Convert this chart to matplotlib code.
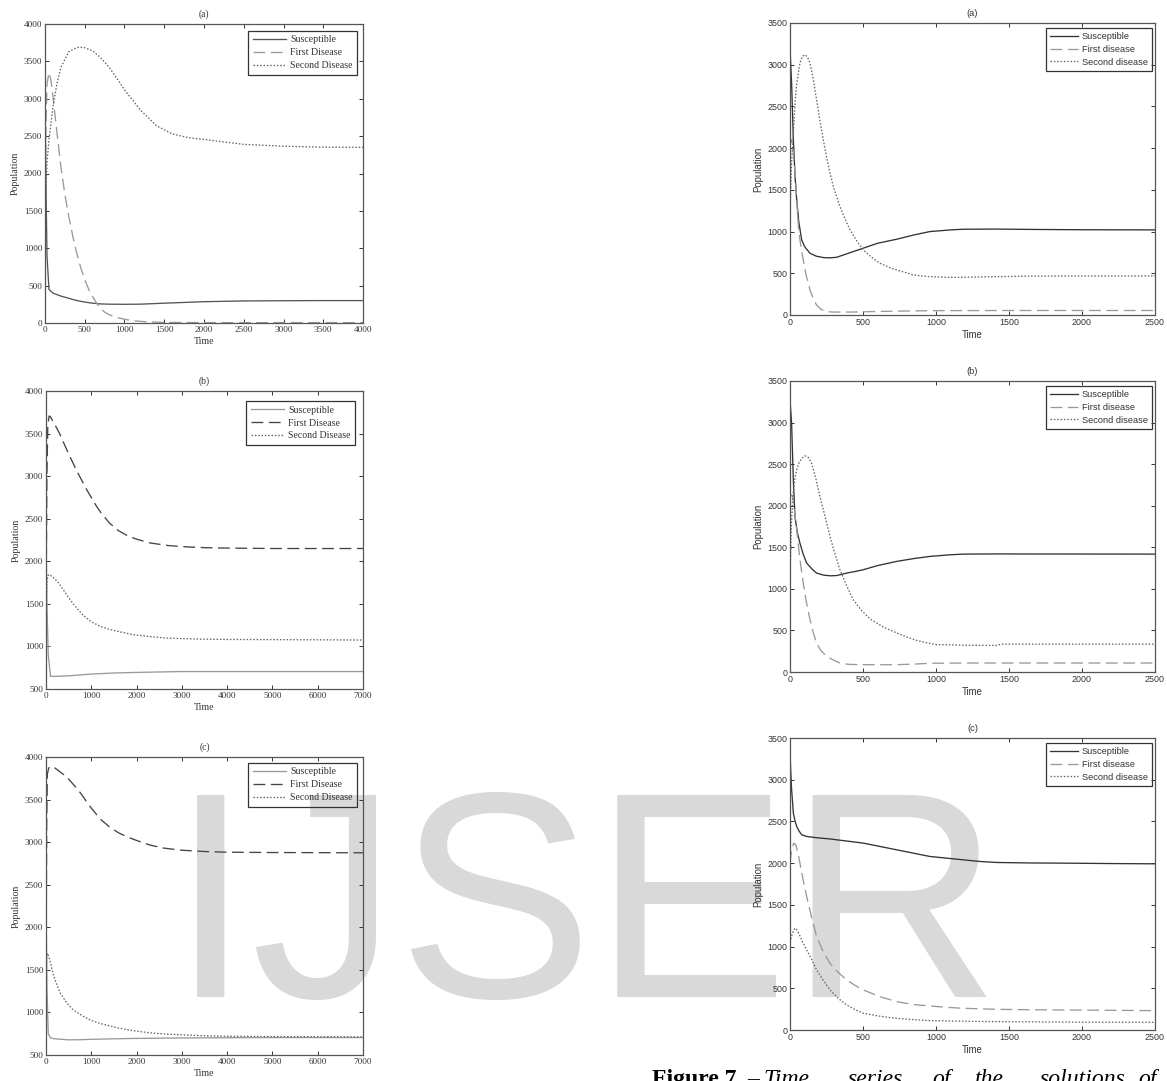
import matplotlib
matplotlib.use("Agg")
import matplotlib.pyplot as plt

plt.rcParams['lines.scale_dashes'] = False

# ---------------- data: left column (a) ----------------
la_t_s = [0, 10, 25, 50, 100, 200, 300, 400, 500, 600, 700, 800, 1000, 1200, 1500, 2000, 2500, 3000, 3500, 4000]
la_s = [3100, 2000, 900, 450, 400, 360, 330, 300, 280, 265, 255, 252, 250, 252, 265, 285, 295, 298, 300, 300]
la_t_f = [0, 10, 25, 50, 75, 100, 150, 200, 250, 300, 350, 400, 450, 500, 550, 600, 650, 700, 750, 800, 900, 1000,
          1100, 1200, 1300, 1500, 2000, 4000]
la_f = [1300, 2500, 3200, 3350, 3250, 3030, 2550, 2090, 1720, 1420, 1160, 930, 740, 580, 450, 350, 265, 195, 145, 115,
        75, 50, 32, 22, 15, 8, 5, 5]
la_t_d = [0, 10, 25, 50, 100, 150, 200, 300, 400, 480, 600, 700, 800, 900, 1000, 1200, 1400, 1600, 1800, 2000, 2500,
          3000, 3500, 4000]
la_d = [1300, 1750, 2150, 2450, 2890, 3200, 3420, 3630, 3685, 3690, 3640, 3550, 3430, 3280, 3120, 2850, 2640, 2530,
        2480, 2455, 2390, 2365, 2352, 2350]

# ---------------- data: left column (b) ----------------
lb_t_s = [0, 20, 50, 100, 200, 500, 1000, 1500, 2000, 2500, 3000, 4000, 5000, 7000]
lb_s = [2300, 1500, 900, 650, 648, 655, 675, 688, 695, 700, 705, 705, 705, 705]
lb_t_f = [0, 20, 40, 70, 100, 200, 300, 400, 500, 600, 700, 800, 900, 1000, 1100, 1200, 1400, 1600, 1800, 2000, 2300,
          2700, 3000, 3500, 4000, 5000, 7000]
lb_f = [1400, 3000, 3600, 3707, 3695, 3600, 3500, 3380, 3260, 3150, 3040, 2940, 2840, 2750, 2660, 2580, 2450, 2360,
        2300, 2260, 2215, 2185, 2172, 2160, 2155, 2150, 2150]
lb_t_d = [0, 20, 40, 70, 100, 200, 300, 464, 600, 831, 1000, 1200, 1400, 1600, 1935, 2300, 2671, 3000, 3407, 4000,
          5000, 6000, 7000]
lb_d = [1400, 1750, 1830, 1845, 1835, 1790, 1730, 1600, 1500, 1360, 1290, 1235, 1200, 1175, 1137, 1115, 1098, 1092,
        1086, 1082, 1080, 1078, 1075]

# ---------------- data: left column (c) ----------------
lc_t_s = [0, 20, 50, 100, 200, 500, 800, 1000, 1500, 2000, 3000, 4000, 5000, 7000]
lc_s = [2300, 1300, 750, 700, 690, 678, 680, 684, 690, 695, 700, 703, 705, 705]
lc_t_f = [0, 15, 30, 60, 100, 200, 300, 400, 500, 600, 700, 800, 900, 1000, 1200, 1400, 1600, 1800, 2000, 2300, 2600,
          3000, 3500, 4000, 5000, 7000]
lc_f = [1300, 3200, 3800, 3870, 3890, 3870, 3830, 3790, 3740, 3680, 3620, 3550, 3470, 3400, 3270, 3180, 3110, 3060,
        3020, 2965, 2930, 2905, 2890, 2882, 2878, 2875]
lc_t_d = [0, 15, 30, 60, 100, 150, 200, 316, 464, 600, 831, 1000, 1199, 1567, 1935, 2300, 2671, 3407, 4000, 5000, 7000]
lc_d = [1400, 1650, 1695, 1660, 1580, 1470, 1380, 1225, 1108, 1030, 951, 905, 870, 820, 785, 760, 745, 728, 720, 716,
        713]

# ---------------- data: right column (a) ----------------
ra_t_s = [0, 5, 11, 23, 35, 46, 60, 80, 100, 137, 180, 230, 274, 320, 400, 500, 600, 730, 850, 958, 1100, 1186, 1400,
          1700, 2000, 2500]
ra_s = [3220, 3000, 2780, 2100, 1650, 1380, 1120, 900, 820, 740, 705, 688, 685, 692, 740, 800, 860, 908, 960, 1000,
        1020, 1028, 1030, 1025, 1022, 1020]
ra_t_f = [0, 5, 10, 20, 35, 46, 60, 80, 91, 110, 137, 160, 182, 210, 251, 300, 400, 500, 600, 800, 1000, 1500, 2000,
          2500]
ra_f = [2000, 2080, 2100, 2000, 1700, 1380, 1000, 760, 660, 480, 300, 190, 120, 70, 40, 35, 35, 38, 42, 48, 52, 54, 54,
        54]
ra_t_d = [0, 10, 23, 35, 46, 68, 85, 103, 120, 137, 160, 182, 205, 228, 251, 274, 300, 342, 380, 411, 460, 502, 560,
          616, 680, 730, 800, 844, 900, 958, 1072, 1186, 1300, 1414, 1642, 2000, 2500]
ra_d = [1200, 1800, 2180, 2550, 2780, 3020, 3100, 3120, 3090, 3020, 2820, 2580, 2330, 2100, 1890, 1700, 1520, 1300,
        1140, 1020, 880, 780, 690, 620, 570, 540, 505, 480, 468, 460, 452, 452, 456, 460, 466, 468, 468]

# ---------------- data: right column (b) ----------------
rb_t_s = [0, 5, 11, 23, 34, 50, 68, 90, 114, 150, 182, 230, 274, 320, 388, 450, 502, 600, 730, 850, 958, 1100, 1186,
          1400, 2500]
rb_s = [3250, 3150, 2990, 2300, 1870, 1680, 1550, 1420, 1310, 1240, 1190, 1165, 1157, 1160, 1190, 1210, 1230, 1280,
        1330, 1365, 1390, 1410, 1418, 1420, 1418]
rb_t_f = [0, 5, 10, 20, 30, 46, 60, 75, 91, 110, 137, 160, 182, 210, 251, 300, 342, 400, 502, 600, 730, 850, 958, 1200,
          1500, 2000, 2500]
rb_f = [2100, 2120, 2130, 2100, 1950, 1710, 1480, 1260, 1070, 860, 630, 470, 350, 260, 190, 140, 108, 92, 88, 88, 88,
        95, 105, 108, 108, 108, 108]
rb_t_d = [0, 10, 23, 35, 46, 60, 80, 103, 125, 148, 175, 205, 240, 274, 308, 342, 390, 433, 490, 547, 640, 730, 800,
          867, 940, 1004, 1200, 1414, 1450, 1600, 2000, 2500]
rb_d = [1150, 1800, 2190, 2340, 2430, 2510, 2570, 2600, 2580, 2510, 2340, 2110, 1870, 1630, 1420, 1230, 1030, 870, 740,
        640, 540, 470, 420, 380, 350, 330, 322, 320, 335, 335, 335, 335]

# ---------------- data: right column (c) ----------------
rc_t_s = [0, 5, 11, 23, 35, 46, 60, 80, 114, 180, 274, 388, 502, 616, 730, 844, 958, 1072, 1186, 1300, 1414, 1650,
          1870, 2200, 2500]
rc_s = [3350, 3100, 2880, 2600, 2500, 2440, 2390, 2340, 2320, 2305, 2290, 2265, 2240, 2200, 2160, 2120, 2080, 2060,
        2040, 2020, 2008, 2002, 2000, 1995, 1992]
rc_t_f = [0, 10, 25, 40, 55, 68, 90, 114, 150, 182, 230, 274, 330, 388, 445, 502, 616, 730, 844, 958, 1072, 1186, 1414,
          1642, 1870, 2200, 2500]
rc_f = [2000, 2150, 2240, 2220, 2120, 2000, 1800, 1600, 1340, 1120, 930, 800, 690, 600, 535, 480, 400, 340, 305, 288,
        272, 260, 248, 243, 240, 236, 232]
rc_t_d = [0, 15, 30, 40, 60, 85, 114, 150, 182, 230, 274, 330, 388, 445, 502, 616, 730, 844, 958, 1186, 1414, 1700,
          2000, 2500]
rc_d = [1050, 1150, 1210, 1220, 1160, 1060, 960, 840, 720, 590, 480, 380, 300, 245, 200, 165, 140, 125, 112, 105, 100,
        97, 94, 92]

left_labels = ["Susceptible", "First Disease", "Second Disease"]
right_labels = ["Susceptible", "First disease", "Second disease"]
titles = ["(a)", "(b)", "(c)"]

W, H = 1167, 1081
fig = plt.figure(figsize=(W / 100, H / 100), dpi=100)


def px_rect(l, r, t, b):
    return [l / W, 1 - b / H, (r - l) / W, (b - t) / H]


def draw_panel(rect, series, colors, labels, xlim, ylim, xticks, yticks, title, family, leg_anchor,
               tick_fs, leg_fs, handlelen):
    ax = fig.add_axes(rect)
    ax.set_facecolor('none')
    styles = [None, (0, (8.5, 4.0)), (0, (1.1, 1.3))]
    for (t, y), c, lab, dash in zip(series, colors, labels, styles):
        ax.plot(t, y, color=c, lw=0.95, ls='-' if dash is None else dash, label=lab)
    ax.set_xlim(*xlim)
    ax.set_ylim(*ylim)
    ax.set_xticks(xticks)
    ax.set_yticks(yticks)
    ax.tick_params(direction='in', length=3, width=0.7, top=True, right=True, labelsize=tick_fs,
                   colors='#333333', pad=2)
    for lbl in ax.get_xticklabels() + ax.get_yticklabels():
        lbl.set_family(family)
        lbl.set_color('#333333')
    for sp in ax.spines.values():
        sp.set_color('#555555')
        sp.set_linewidth(0.9)
    ax.set_xlabel("Time", family=family, fontsize=tick_fs + 0.5, color='#333333', labelpad=2)
    ax.set_ylabel("Population", family=family, fontsize=tick_fs + 0.5, color='#333333', labelpad=3)
    ax.set_title(title, family=family, fontsize=tick_fs + 0.3, color='#333333', pad=5)
    leg = ax.legend(loc='upper right', bbox_to_anchor=leg_anchor, borderaxespad=0, fancybox=False,
                    prop={'family': family, 'size': leg_fs}, handlelength=handlelen, handletextpad=0.4,
                    borderpad=0.45, labelspacing=0.4, framealpha=1)
    leg.get_frame().set_facecolor('none')
    leg.get_frame().set_edgecolor('#333333')
    leg.get_frame().set_linewidth(0.9)
    for txt in leg.get_texts():
        txt.set_color('#333333')
    return ax


serif = ['Liberation Serif', 'DejaVu Serif']
sans = ['Liberation Sans', 'DejaVu Sans']

left_cols_a = ['#555555', '#999999', '#666666']
left_cols_bc = ['#999999', '#444444', '#666666']
right_cols = ['#333333', '#999999', '#666666']

# left column
draw_panel(px_rect(45, 363, 24, 323), [(la_t_s, la_s), (la_t_f, la_f), (la_t_d, la_d)], left_cols_a, left_labels,
           (0, 4000), (0, 4000), range(0, 4001, 500), range(0, 4001, 500), titles[0], serif,
           (0.981, 0.977), 6.6, 7.1, 3.4)
draw_panel(px_rect(46, 363, 391, 689), [(lb_t_s, lb_s), (lb_t_f, lb_f), (lb_t_d, lb_d)], left_cols_bc, left_labels,
           (0, 7000), (500, 4000), range(0, 7001, 1000), range(500, 4001, 500), titles[1], serif,
           (0.975, 0.966), 6.6, 7.1, 3.4)
draw_panel(px_rect(46, 363, 757, 1055), [(lc_t_s, lc_s), (lc_t_f, lc_f), (lc_t_d, lc_d)], left_cols_bc, left_labels,
           (0, 7000), (500, 4000), range(0, 7001, 1000), range(500, 4001, 500), titles[2], serif,
           (0.981, 0.98), 6.6, 7.1, 3.4)

# right column
draw_panel(px_rect(790, 1155, 23, 315), [(ra_t_s, ra_s), (ra_t_f, ra_f), (ra_t_d, ra_d)], right_cols, right_labels,
           (0, 2500), (0, 3500), range(0, 2501, 500), range(0, 3501, 500), titles[0], sans,
           (0.992, 0.983), 6.4, 6.7, 3.0)
draw_panel(px_rect(790, 1155, 381, 672), [(rb_t_s, rb_s), (rb_t_f, rb_f), (rb_t_d, rb_d)], right_cols, right_labels,
           (0, 2500), (0, 3500), range(0, 2501, 500), range(0, 3501, 500), titles[1], sans,
           (0.992, 0.983), 6.4, 6.7, 3.0)
draw_panel(px_rect(790, 1155, 738, 1030), [(rc_t_s, rc_s), (rc_t_f, rc_f), (rc_t_d, rc_d)], right_cols, right_labels,
           (0, 2500), (0, 3500), range(0, 2501, 500), range(0, 3501, 500), titles[2], sans,
           (0.992, 0.983), 6.4, 6.7, 3.0)

# watermark
fig.text(170 / W, 1 - 997 / H, "IJSER", family=sans, fontsize=211, color='#d9d9d9',
         ha='left', va='baseline', zorder=-1)

# partially visible caption
cap_y = 1 - 1085 / H
fig.text(737 / W, cap_y, "Figure 7", family=serif, fontweight='bold', fontsize=17, color='black',
         ha='right', va='baseline')
cap_words = ["\u2013", "Time", "series", "of", "the", "solutions", "of", "the"]
cap_x = [747, 763, 848, 932, 975, 1040, 1138, 1185]
for w, xp in zip(cap_words, cap_x):
    fig.text(xp / W, cap_y, w, family=serif, style='italic', fontsize=17, color='black',
             ha='left', va='baseline')

fig.savefig("out.png", dpi=100)
